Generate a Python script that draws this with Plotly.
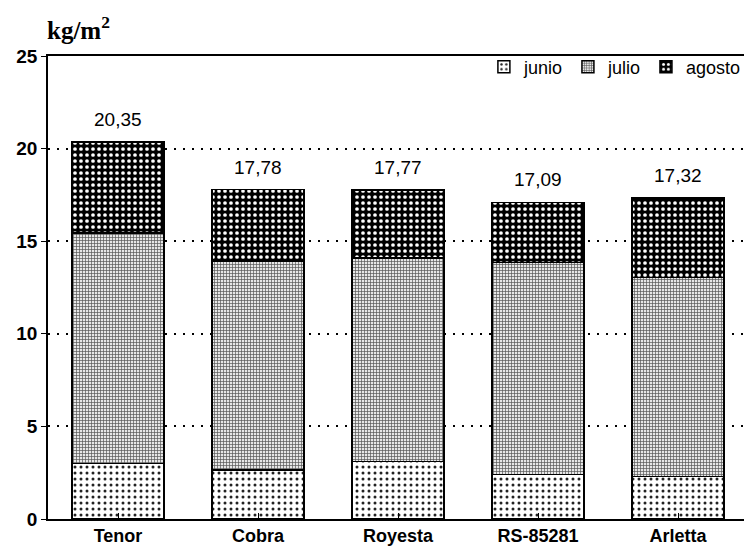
import plotly.graph_objects as go

categories = ["Tenor", "Cobra", "Royesta", "RS-85281", "Arletta"]
junio = [3.0, 2.65, 3.1, 2.4, 2.3]
julio_top = [15.45, 13.9, 14.1, 13.85, 13.05]
totals = [20.35, 17.78, 17.77, 17.09, 17.32]
total_labels = ["20,35", "17,78", "17,77", "17,09", "17,32"]
julio = [jt - j for jt, j in zip(julio_top, junio)]
agosto = [t - jt for t, jt in zip(totals, julio_top)]
y_ticks = [0, 5, 10, 15, 20, 25]

sans = "Liberation Sans, Arial, sans-serif"

fig = go.Figure()
fig.add_trace(go.Bar(
    x=categories, y=junio, name="junio",
    marker=dict(color="white", line=dict(color="black", width=1.5),
                pattern=dict(shape=".", fgcolor="#222222", bgcolor="white",
                             size=6, solidity=0.2, fillmode="replace")),
))
fig.add_trace(go.Bar(
    x=categories, y=julio, name="julio",
    marker=dict(color="#d8d8d8", line=dict(color="black", width=1.5),
                pattern=dict(shape="+", fgcolor="#555555", bgcolor="#e6e6e6",
                             size=3, solidity=0.4, fillmode="replace")),
))
fig.add_trace(go.Bar(
    x=categories, y=agosto, name="agosto",
    marker=dict(color="black", line=dict(color="black", width=1.5),
                pattern=dict(shape=".", fgcolor="white", bgcolor="black",
                             size=6, solidity=0.3, fillmode="replace")),
))

for cat, tot, lab in zip(categories, totals, total_labels):
    fig.add_annotation(x=cat, y=tot, text=lab, showarrow=False,
                       yanchor="bottom", yshift=10,
                       font=dict(family=sans, size=19, color="black"))

fig.add_annotation(xref="paper", yref="paper", x=-0.004, y=1.06,
                   xanchor="left", yanchor="middle", showarrow=False,
                   text="kg/m<sup>2</sup>",
                   font=dict(family="Liberation Serif, Times New Roman, serif",
                             size=25, color="black", weight="bold"))

fig.update_layout(
    width=744, height=547,
    margin=dict(l=40, r=2, t=48, b=36),
    paper_bgcolor="white", plot_bgcolor="white",
    barmode="stack", bargap=0.345,
    legend=dict(orientation="h", x=0.997, xanchor="right", y=1.016, yanchor="top",
                bgcolor="rgba(0,0,0,0)", font=dict(family=sans, size=18, color="black"),
                traceorder="normal", itemwidth=30, borderwidth=0),
    xaxis=dict(showline=True, linecolor="black", linewidth=1.5, mirror=True,
               ticks="inside", ticklen=6, tickcolor="black",
               tickfont=dict(family=sans, size=18, color="black", weight="bold"),
               showgrid=False),
    yaxis=dict(range=[0, 25], tickvals=y_ticks,
               showline=True, linecolor="black", linewidth=1.5, mirror=True,
               ticks="outside", ticklen=5, tickcolor="black",
               tickfont=dict(family=sans, size=19, color="black", weight="bold"),
               showgrid=True, gridcolor="black", gridwidth=1.5, griddash="2px,7px",
               zeroline=False),
)

fig.write_html("out.html")
